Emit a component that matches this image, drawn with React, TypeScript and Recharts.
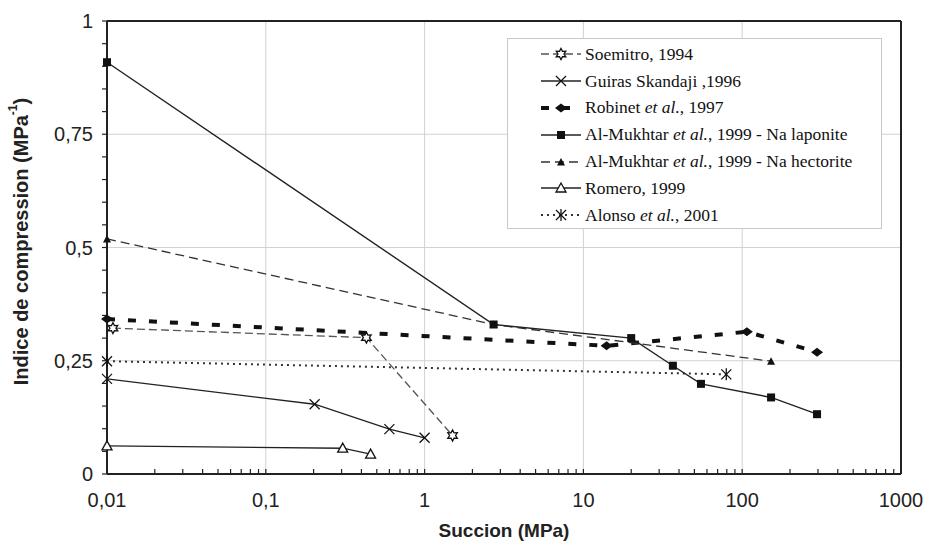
import React from 'react';
import { LineChart, Line, XAxis, YAxis, CartesianGrid, ReferenceLine, Legend, Label } from 'recharts';

// ---------- data ----------
const soemitroX = [0.0109, 0.43, 1.5];
const soemitroY = [0.322, 0.301, 0.085];

const guirasX = [0.01, 0.203, 0.6, 1.0];
const guirasY = [0.21, 0.154, 0.099, 0.08];

const robinetX = [0.01, 14, 107, 296];
const robinetY = [0.342, 0.283, 0.314, 0.269];

const laponiteX = [0.01, 2.72, 20, 36.6, 55, 152, 296];
const laponiteY = [0.909, 0.33, 0.3, 0.239, 0.199, 0.169, 0.132];

const hectoriteX = [0.01, 2.72, 152];
const hectoriteY = [0.519, 0.33, 0.249];

const romeroX = [0.01, 0.305, 0.457];
const romeroY = [0.062, 0.057, 0.044];

const alonsoX = [0.01, 79.4];
const alonsoY = [0.249, 0.22];

const xTicksMajor = [0.01, 0.1, 1, 10, 100, 1000];
const xTickLabels = ['0,01', '0,1', '1', '10', '100', '1000'];
const xTicksMinor = [
  0.02, 0.03, 0.04, 0.05, 0.06, 0.07, 0.08, 0.09,
  0.2, 0.3, 0.4, 0.5, 0.6, 0.7, 0.8, 0.9,
  2, 3, 4, 5, 6, 7, 8, 9,
  20, 30, 40, 50, 60, 70, 80, 90,
  200, 300, 400, 500, 600, 700, 800, 900,
];
const yTicks = [0, 0.05, 0.1, 0.15, 0.2, 0.25, 0.3, 0.35, 0.4, 0.45, 0.5, 0.55, 0.6, 0.65, 0.7, 0.75, 0.8, 0.85, 0.9, 0.95, 1];
const yTicksMajor = [0, 0.25, 0.5, 0.75, 1];
const yTickLabels = ['0', '0,25', '0,5', '0,75', '1'];

const toPoints = (xs: number[], ys: number[]) => xs.map((x, i) => ({ x, y: ys[i] }));

type Kind = 'star' | 'x' | 'diamond' | 'square' | 'tri' | 'otri' | 'ast';

interface SeriesCfg {
  id: string;
  name: string;
  data: { x: number; y: number }[];
  kind: Kind;
  stroke: string;
  width: number;
  dash?: string;
}

const series: SeriesCfg[] = [
  { id: 'soe', name: 'Soemitro, 1994', data: toPoints(soemitroX, soemitroY), kind: 'star', stroke: '#555', width: 1.3, dash: '8 4' },
  { id: 'gui', name: 'Guiras Skandaji ,1996', data: toPoints(guirasX, guirasY), kind: 'x', stroke: '#222', width: 1.3 },
  { id: 'rob', name: 'Robinet et al., 1997', data: toPoints(robinetX, robinetY), kind: 'diamond', stroke: '#111', width: 4, dash: '8 13' },
  { id: 'lap', name: 'Al-Mukhtar et al., 1999 - Na laponite', data: toPoints(laponiteX, laponiteY), kind: 'square', stroke: '#222', width: 1.4 },
  { id: 'hec', name: 'Al-Mukhtar et al., 1999 - Na hectorite', data: toPoints(hectoriteX, hectoriteY), kind: 'tri', stroke: '#333', width: 1.3, dash: '9 5' },
  { id: 'rom', name: 'Romero, 1999', data: toPoints(romeroX, romeroY), kind: 'otri', stroke: '#222', width: 1.4 },
  { id: 'alo', name: 'Alonso et al., 2001', data: toPoints(alonsoX, alonsoY), kind: 'ast', stroke: '#333', width: 2, dash: '2 4' },
];

const drawOrder = ['alo', 'rom', 'gui', 'soe', 'rob', 'hec', 'lap'];

function Marker({ kind, cx, cy }: { kind: Kind; cx: number; cy: number }) {
  const c = '#111';
  switch (kind) {
    case 'star': {
      const pts: string[] = [];
      for (let k = 0; k < 12; k++) {
        const r = k % 2 === 0 ? 5.5 : 3;
        const a = (Math.PI / 6) * k - Math.PI / 2;
        pts.push(`${cx + r * Math.cos(a)},${cy + r * Math.sin(a)}`);
      }
      return <polygon points={pts.join(' ')} fill="#fff" stroke={c} strokeWidth={1.3} />;
    }
    case 'x':
      return (
        <g stroke={c} strokeWidth={1.3}>
          <line x1={cx - 5} y1={cy - 5} x2={cx + 5} y2={cy + 5} />
          <line x1={cx - 5} y1={cy + 5} x2={cx + 5} y2={cy - 5} />
        </g>
      );
    case 'diamond':
      return <polygon points={`${cx - 6},${cy} ${cx},${cy - 4.5} ${cx + 6},${cy} ${cx},${cy + 4.5}`} fill={c} />;
    case 'square':
      return <rect x={cx - 4} y={cy - 4} width={8} height={8} fill={c} />;
    case 'tri':
      return <polygon points={`${cx - 4},${cy + 3.5} ${cx + 4},${cy + 3.5} ${cx},${cy - 4}`} fill={c} />;
    case 'otri':
      return <polygon points={`${cx - 5},${cy + 4} ${cx + 5},${cy + 4} ${cx},${cy - 5}`} fill="#fff" stroke={c} strokeWidth={1.3} />;
    case 'ast':
      return (
        <g stroke={c} strokeWidth={1.3}>
          <line x1={cx - 5} y1={cy - 5} x2={cx + 5} y2={cy + 5} />
          <line x1={cx - 5} y1={cy + 5} x2={cx + 5} y2={cy - 5} />
          <line x1={cx} y1={cy - 6} x2={cx} y2={cy + 6} />
        </g>
      );
  }
  return null;
}

const XTick = (props: any) => {
  const { x, y, payload } = props;
  const v = payload.value;
  const i = xTicksMajor.indexOf(v);
  return (
    <g>
      <line x1={x} x2={x} y1={y} y2={y - 5} stroke="#222" strokeWidth={1.2} />
      {i >= 0 && (
        <text x={x} y={y + 26} textAnchor="middle" dominantBaseline="central" fontSize={20} fill="#222" fontFamily="'Liberation Sans', Arial, sans-serif">
          {xTickLabels[i]}
        </text>
      )}
    </g>
  );
};

const fmtY = (v: number) => {
  const i = yTicksMajor.indexOf(v);
  return i >= 0 ? yTickLabels[i] : '';
};

const YTitle = (props: any) => {
  const vb = props.viewBox || { x: 17, y: 21, width: 90, height: 453 };
  const cx = vb.x + 4;
  const cy = vb.y + vb.height / 2 - 6;
  return (
    <text x={cx} y={cy} transform={`rotate(-90, ${cx}, ${cy})`} textAnchor="middle" dominantBaseline="central" fontSize={20} fontWeight="bold" fill="#222" fontFamily="'Liberation Sans', Arial, sans-serif">
      Indice de compression (MPa
      <tspan fontSize={12} dy={-8}>-1</tspan>
      <tspan dy={8}>)</tspan>
    </text>
  );
};

const XTitle = (props: any) => {
  const vb = props.viewBox || { x: 107, y: 474, width: 794, height: 68 };
  return (
    <text x={vb.x + vb.width / 2} y={vb.y + 56} textAnchor="middle" dominantBaseline="central" fontSize={19} fontWeight="bold" fill="#222" fontFamily="'Liberation Sans', Arial, sans-serif">
      Succion (MPa)
    </text>
  );
};

const renderName = (name: string) => {
  const parts = name.split('et al.');
  if (parts.length === 1) return name;
  return (
    <>
      {parts[0]}
      <i>et al.</i>
      {parts[1]}
    </>
  );
};

const LegendBox = () => (
  <div
    style={{
      width: 375,
      height: 191,
      boxSizing: 'border-box',
      border: '1px solid #c8c8c8',
      background: '#fff',
      paddingTop: 2.5,
      fontFamily: "'Liberation Serif', 'Times New Roman', serif",
      fontSize: 17.5,
      color: '#111',
    }}
  >
    {series.map((s) => (
      <div key={s.id} style={{ display: 'flex', alignItems: 'center', height: 26.8 }}>
        <svg width={40} height={20} style={{ marginLeft: 33, marginRight: 4, flex: 'none' }}>
          <line x1={0} x2={40} y1={10} y2={10} stroke={s.stroke} strokeWidth={s.width} strokeDasharray={s.dash} />
          <Marker kind={s.kind} cx={20} cy={10} />
        </svg>
        <span style={{ whiteSpace: 'nowrap' }}>{renderName(s.name)}</span>
      </div>
    ))}
  </div>
);

export default function App() {
  const ordered = drawOrder.map((id) => series.find((s) => s.id === id)!);
  return (
    <div style={{ position: 'absolute', left: 0, top: 0, width: 926, height: 542, background: '#fff' }}>
      <LineChart width={926} height={542} margin={{ top: 21, right: 25, left: 17, bottom: 0 }}>
        <CartesianGrid
          xAxisId="x"
          yAxisId="y"
          horizontalValues={[0.25, 0.5, 0.75]}
          verticalValues={[0.1, 1, 10, 100]}
          stroke="#d2d2d2"
          strokeWidth={1}
        />
        <XAxis
          xAxisId="x"
          dataKey="x"
          type="number"
          scale="log"
          domain={[0.01, 1000]}
          ticks={[...xTicksMajor, ...xTicksMinor]}
          interval={0}
          tick={<XTick />}
          tickLine={false}
          tickSize={0}
          tickMargin={0}
          axisLine={{ stroke: '#222', strokeWidth: 2 }}
          height={68}
        >
          <Label content={<XTitle />} />
        </XAxis>
        <YAxis
          yAxisId="y"
          type="number"
          domain={[0, 1]}
          ticks={yTicks}
          interval={0}
          tickFormatter={fmtY}
          tickSize={5}
          tickMargin={9}
          width={90}
          axisLine={{ stroke: '#222', strokeWidth: 2 }}
          tickLine={{ stroke: '#222', strokeWidth: 1.2 }}
          tick={{ fontSize: 20, fill: '#222', fontFamily: "'Liberation Sans', Arial, sans-serif" }}
        >
          <Label content={<YTitle />} />
        </YAxis>
        <ReferenceLine xAxisId="x" yAxisId="y" y={1} stroke="#222" strokeWidth={2} />
        <ReferenceLine xAxisId="x" yAxisId="y" x={1000} stroke="#222" strokeWidth={2} />
        {ordered.map((s) => (
          <Line
            key={s.id}
            xAxisId="x"
            yAxisId="y"
            data={s.data}
            dataKey="y"
            name={s.name}
            type="linear"
            stroke={s.stroke}
            strokeWidth={s.width}
            strokeDasharray={s.dash}
            isAnimationActive={false}
            activeDot={false}
            dot={(p: any) => <Marker key={`${s.id}-${p.index}`} kind={s.kind} cx={p.cx} cy={p.cy} />}
          />
        ))}
        <Legend
          layout="vertical"
          align="center"
          verticalAlign="middle"
          wrapperStyle={{ left: 507, top: 37.5, width: 375, height: 191 }}
          content={<LegendBox />}
        />
      </LineChart>
    </div>
  );
}
